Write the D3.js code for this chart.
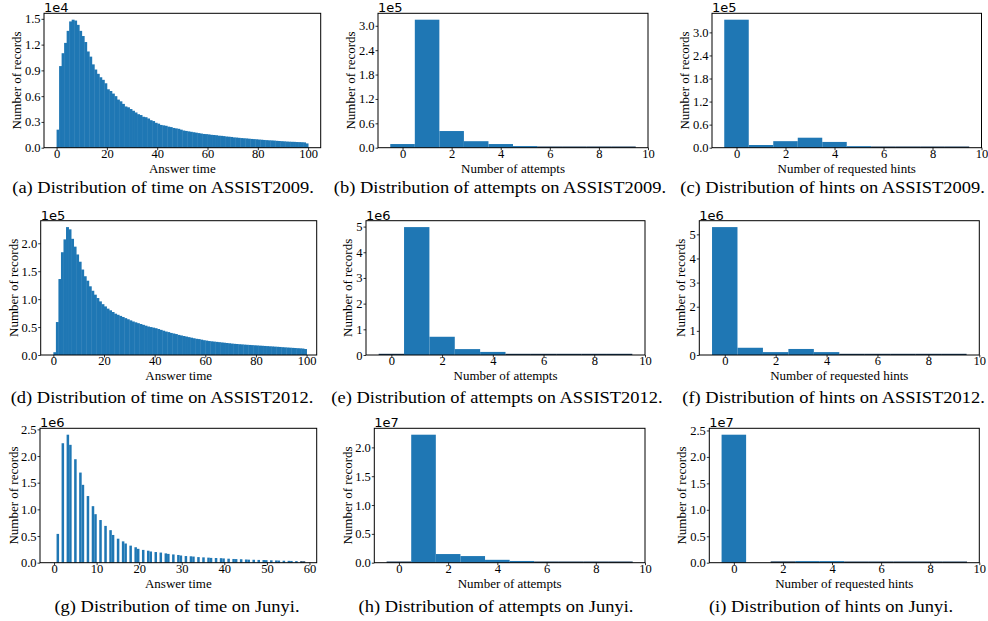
<!DOCTYPE html>
<html>
<head>
<meta charset="utf-8">
<script src="https://cdn.jsdelivr.net/npm/d3@7"></script>
<style>
  body { margin: 0; background: #fff; }
  svg text { font-family: "Liberation Serif", "Times New Roman", serif; fill: #000; }
  svg text.offset { font-family: "DejaVu Sans", sans-serif; }
</style>
</head>
<body>
<script>
// histogram counts, in the units of each panel's offset label (1e4, 1e5 ...)
// answer time, ASSIST2009 : one bin per second, 0..99  (x1e4)
var time2009 = [0.21, 0.95, 1.10, 1.22, 1.36, 1.47, 1.49, 1.48, 1.43, 1.36,
  1.30, 1.23, 1.12, 1.06, 0.97, 0.91, 0.86, 0.82, 0.79, 0.75,
  0.68, 0.66, 0.63, 0.60, 0.56, 0.54, 0.51, 0.48, 0.47, 0.45,
  0.43, 0.41, 0.39, 0.38, 0.36, 0.355, 0.34, 0.32, 0.31, 0.29,
  0.28, 0.265, 0.26, 0.255, 0.245, 0.24, 0.23, 0.225, 0.22, 0.21,
  0.20, 0.195, 0.19, 0.185, 0.18, 0.175, 0.17, 0.165, 0.16, 0.158,
  0.155, 0.15, 0.148, 0.145, 0.14, 0.138, 0.135, 0.13, 0.128, 0.125,
  0.12, 0.118, 0.115, 0.112, 0.11, 0.108, 0.105, 0.102, 0.10, 0.098,
  0.095, 0.093, 0.09, 0.088, 0.086, 0.085, 0.083, 0.08, 0.078, 0.076,
  0.074, 0.072, 0.07, 0.069, 0.068, 0.066, 0.065, 0.064, 0.062, 0.05];
// number of attempts / hints, 0..9  (x1e5)
var attempts2009 = [0.09, 3.15, 0.41, 0.16, 0.09, 0.04, 0.012, 0.006, 0.004, 0.002];
var hints2009 = [3.33, 0.07, 0.17, 0.26, 0.15, 0.04, 0.015, 0.007, 0.004, 0.003];

// answer time, ASSIST2012 (x1e5)
var time2012 = [0.05, 0.59, 1.36, 1.84, 2.07, 2.29, 2.25, 2.08, 1.94, 1.80,
  1.67, 1.53, 1.41, 1.33, 1.23, 1.15, 1.08, 1.02, 0.96, 0.91,
  0.87, 0.83, 0.80, 0.77, 0.74, 0.72, 0.70, 0.68, 0.66, 0.64,
  0.62, 0.60, 0.585, 0.57, 0.555, 0.54, 0.525, 0.51, 0.50, 0.49,
  0.48, 0.465, 0.45, 0.435, 0.42, 0.41, 0.395, 0.385, 0.375, 0.36,
  0.35, 0.34, 0.33, 0.32, 0.31, 0.30, 0.29, 0.285, 0.275, 0.265,
  0.258, 0.25, 0.245, 0.24, 0.235, 0.23, 0.225, 0.22, 0.215, 0.21,
  0.205, 0.20, 0.197, 0.193, 0.19, 0.186, 0.183, 0.18, 0.177, 0.174,
  0.171, 0.168, 0.165, 0.162, 0.159, 0.156, 0.153, 0.15, 0.147, 0.144,
  0.14, 0.137, 0.134, 0.131, 0.128, 0.125, 0.122, 0.119, 0.116, 0.107];
// (x1e6)
var attempts2012 = [0.04, 4.98, 0.71, 0.23, 0.12, 0.04, 0.035, 0.012, 0.008, 0.005];
var hints2012 = [5.30, 0.30, 0.12, 0.25, 0.12, 0.04, 0.012, 0.006, 0.004, 0.003];

// answer time, Junyi : counts per whole second 0..59 (x1e6)
var timeJunyi = [0, 0.54, 2.24, 2.40, 2.21, 1.94, 1.69, 1.46, 1.25, 1.06,
  0.91, 0.80, 0.69, 0.61, 0.52, 0.45, 0.40, 0.36, 0.32, 0.29,
  0.26, 0.24, 0.225, 0.21, 0.20, 0.19, 0.175, 0.165, 0.155, 0.145,
  0.135, 0.125, 0.12, 0.115, 0.105, 0.10, 0.095, 0.09, 0.088, 0.085,
  0.08, 0.075, 0.07, 0.068, 0.065, 0.06, 0.057, 0.055, 0.052, 0.05,
  0.048, 0.045, 0.042, 0.04, 0.037, 0.035, 0.033, 0.03, 0.028, 0.026];
// (x1e7)
var attemptsJunyi = [0.002, 2.22, 0.15, 0.115, 0.05, 0.03, 0.006, 0.003, 0.002, 0.001];
var hintsJunyi = [2.42, 0, 0.025, 0.03, 0.03, 0.02, 0.004, 0.003, 0.002, 0.001];

// tick labels
var ticksTime100 = [0, 20, 40, 60, 80, 100];
var ticksTime60 = [0, 10, 20, 30, 40, 50, 60];
var ticksCount = [0, 2, 4, 6, 8, 10];
var yTicksA = [0, 0.3, 0.6, 0.9, 1.2, 1.5];
var yTicksB = [0, 0.6, 1.2, 1.8, 2.4, 3.0];
var yTicksD = [0, 0.5, 1.0, 1.5, 2.0];
var yTicksE = [0, 1, 2, 3, 4, 5];
var yTicksG = [0, 0.5, 1.0, 1.5, 2.0, 2.5];

var captions = [
  "(a) Distribution of time on ASSIST2009.",
  "(b) Distribution of attempts on ASSIST2009.",
  "(c) Distribution of hints on ASSIST2009.",
  "(d) Distribution of time on ASSIST2012.",
  "(e) Distribution of attempts on ASSIST2012.",
  "(f) Distribution of hints on ASSIST2012.",
  "(g) Distribution of time on Junyi.",
  "(h) Distribution of attempts on Junyi.",
  "(i) Distribution of hints on Junyi."
];

var SERIF = '"Liberation Serif", "Times New Roman", serif';

// turn the arrays into bars
function secondBins(vals) {
  return vals.map(function(v, i) { return {x0: i, x1: i + 1, v: v}; });
}
function countBins(vals) {
  return vals.map(function(v, i) { return {x0: i - 0.5, x1: i + 0.5, v: v}; });
}
// Junyi: whole seconds 0..59 put into 100 equal bins over [0, 59]
function junyiBins(vals) {
  var w = 59 / 100;
  return vals.map(function(v, s) {
    var b = Math.min(99, Math.floor(s / w));
    return {x0: b * w, x1: (b + 1) * w, v: v};
  });
}

var panels = [
  {box: [44, 13.3, 320.7, 147.7], xd: [-5, 105], xt: ticksTime100, yt: yTicksA, fmt: ".1f", exp: "1e4", bars: secondBins(time2009), dense: true, xl: "Answer time", yOff: 27, capX: 163, capY: 193.3},
  {box: [378, 13.3, 648, 147.7], xd: [-1, 10], xt: ticksCount, yt: yTicksB, fmt: ".1f", exp: "1e5", bars: countBins(attempts2009), xl: "Number of attempts", yOff: 27, capX: 500, capY: 193.3},
  {box: [712, 13.3, 981.5, 147.7], xd: [-1, 10], xt: ticksCount, yt: yTicksB, fmt: ".1f", exp: "1e5", bars: countBins(hints2009), xl: "Number of requested hints", yOff: 27, capX: 846, capY: 193.3},
  {box: [40.7, 220.7, 316.7, 355], xd: [-5, 104], xt: ticksTime100, yt: yTicksD, fmt: ".1f", exp: "1e5", bars: secondBins(time2012), dense: true, xl: "Answer time", yOff: 27, capX: 162, capY: 403},
  {box: [366, 220.7, 645, 355], xd: [-1, 10], xt: ticksCount, yt: yTicksE, fmt: "d", exp: "1e6", bars: countBins(attempts2012), xl: "Number of attempts", yOff: 18, capX: 497, capY: 403},
  {box: [699.3, 220.7, 979.3, 355], xd: [-1, 10], xt: ticksCount, yt: yTicksE, fmt: "d", exp: "1e6", bars: countBins(hints2012), xl: "Number of requested hints", yOff: 18, capX: 839, capY: 403},
  {box: [40, 428.3, 316.7, 562.7], xd: [-3.3, 61.7], xt: ticksTime60, yt: yTicksG, fmt: ".1f", exp: "1e6", bars: junyiBins(timeJunyi), xl: "Answer time", yOff: 26, capX: 177, capY: 612},
  {box: [374.3, 428.3, 645, 562.7], xd: [-1, 10], xt: ticksCount, yt: yTicksD, fmt: ".1f", exp: "1e7", bars: countBins(attemptsJunyi), xl: "Number of attempts", yOff: 26, capX: 496, capY: 612},
  {box: [709.3, 428.3, 979.3, 562.7], xd: [-1, 10], xt: ticksCount, yt: yTicksG, fmt: ".1f", exp: "1e7", bars: countBins(hintsJunyi), xl: "Number of requested hints", yOff: 27.5, capX: 831, capY: 612}
];

var svg = d3.select("body")
  .append("svg")
  .attr("width", 988)
  .attr("height", 621);

panels.forEach(function(p, k) {
  var l = p.box[0], t = p.box[1], r = p.box[2], b = p.box[3];
  var g = svg.append("g");

  var x = d3.scaleLinear().domain(p.xd).range([l, r]);
  var ymax = d3.max(p.bars, d => d.v) * 1.05;
  var y = d3.scaleLinear().domain([0, ymax]).range([b, t]);

  // bars (thin ones come out as a dark line, like in the original)
  g.selectAll("rect.bar")
    .data(p.bars.filter(d => d.v > 0))
    .enter()
    .append("rect")
    .attr("class", "bar")
    .attr("x", d => x(d.x0))
    .attr("width", d => x(d.x1) - x(d.x0) + (p.dense ? 0.4 : 0))
    .attr("y", d => Math.min(y(d.v), b - 1.2))
    .attr("height", d => Math.max(b - y(d.v), 1.2))
    .attr("fill", d => (b - y(d.v)) < 1.5 ? "#163a5c" : "#1f77b4");

  // axes
  var xAxis = d3.axisBottom(x).tickValues(p.xt).tickSize(2.5).tickPadding(1).tickFormat(d3.format("d"));
  var yAxis = d3.axisLeft(y).tickValues(p.yt).tickSize(2.5).tickPadding(1).tickFormat(d3.format(p.fmt));

  var gx = g.append("g").attr("transform", `translate(0, ${b})`).call(xAxis);
  var gy = g.append("g").attr("transform", `translate(${l}, 0)`).call(yAxis);
  [gx, gy].forEach(function(a) {
    a.attr("font-family", null).attr("font-size", null);
    a.select(".domain").remove();
    a.selectAll("line").attr("stroke", "#000").attr("stroke-width", 0.8);
    a.selectAll("text")
      .attr("fill", "#000")
      .style("font-family", SERIF)
      .style("font-size", "12.5px");
  });
  gx.selectAll("text").attr("y", 1).attr("dy", "0.72em");

  // frame
  g.append("rect")
    .attr("x", l).attr("y", t)
    .attr("width", r - l).attr("height", b - t)
    .attr("fill", "none")
    .attr("stroke", "#000")
    .attr("stroke-width", 1);

  // offset text
  g.append("text")
    .attr("class", "offset")
    .style("font-size", "13px")
    .attr("x", l)
    .attr("y", t - 1)
    .text(p.exp);

  // axis labels
  g.append("text")
    .style("font-size", "13px")
    .attr("text-anchor", "middle")
    .attr("x", (l + r) / 2)
    .attr("y", b + 25)
    .text(p.xl);

  g.append("text")
    .style("font-size", "13px")
    .attr("text-anchor", "middle")
    .attr("transform", `translate(${l - p.yOff + 4}, ${(t + b) / 2}) rotate(-90)`)
    .text("Number of records");

  // caption, kept inside the page
  var cap = g.append("text")
    .style("font-size", "16.5px")
    .attr("text-anchor", "middle")
    .text(captions[k]);
  var half = cap.node().getComputedTextLength() * 1.12 / 2;
  var cx = Math.min(p.capX, 985 - half);
  cap.attr("transform", `translate(${cx}, ${p.capY}) scale(1.12, 1)`);
});
</script>
</body>
</html>
